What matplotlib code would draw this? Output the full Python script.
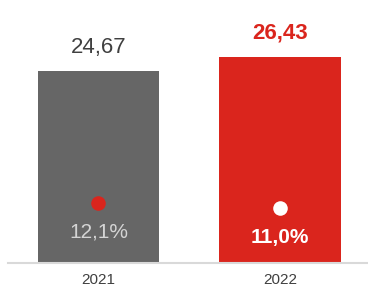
import matplotlib
matplotlib.use("Agg")
import matplotlib.pyplot as plt

# data
years = ["2021", "2022"]
values = [24.67, 26.43]
value_labels = ["24,67", "26,43"]
margins = [12.1, 11.0]
margin_labels = ["12,1%", "11,0%"]

plt.rcParams["font.family"] = ["Liberation Sans", "DejaVu Sans"]

GRAY = "#666666"
RED = "#da251d"

fig = plt.figure(figsize=(3.68, 2.89), dpi=100)
# axes spans from baseline (263px from top) to the top edge
ax = fig.add_axes([8 / 368, 26 / 289, 360 / 368, 263 / 289])
ax2 = ax.twinx()

x = range(len(years))
ax.bar(x, values, width=0.667, color=[GRAY, RED], zorder=2)
ax.set_xlim(-0.4986, 1.485)
ax.set_ylim(0, 33.8)
ax2.set_ylim(0, 53.0)

# value labels above bars
ax.annotate(value_labels[0], (0, values[0]), xytext=(0, 24), textcoords="offset pixels",
            ha="center", va="center", fontsize=16, color="#404040")
ax.annotate(value_labels[1], (1, values[1]), xytext=(0, 24), textcoords="offset pixels",
            ha="center", va="center", fontsize=16, color=RED, fontweight="bold")

# margin dots + labels
ax2.scatter([0], [margins[0]], s=110, color=RED, zorder=3, linewidths=0)
ax2.scatter([1], [margins[1]], s=110, color="white", zorder=3, linewidths=0)
ax2.annotate(margin_labels[0], (0, margins[0]), xytext=(0, -29), textcoords="offset pixels",
             ha="center", va="center", fontsize=15, color="#d4d4d4")
ax2.annotate(margin_labels[1], (1, margins[1]), xytext=(0, -29), textcoords="offset pixels",
             ha="center", va="center", fontsize=15, color="white", fontweight="bold")

for a in (ax, ax2):
    for s in a.spines.values():
        s.set_visible(False)
    a.set_yticks([])
ax.spines["bottom"].set_visible(True)
ax.spines["bottom"].set_color("#d9d9d9")
ax.spines["bottom"].set_linewidth(1.5)

ax.set_xticks(list(x))
ax.set_xticklabels(years, fontsize=11, color="#404040")
ax.tick_params(axis="x", length=0, pad=7.5)

fig.savefig("out.png", dpi=100)
